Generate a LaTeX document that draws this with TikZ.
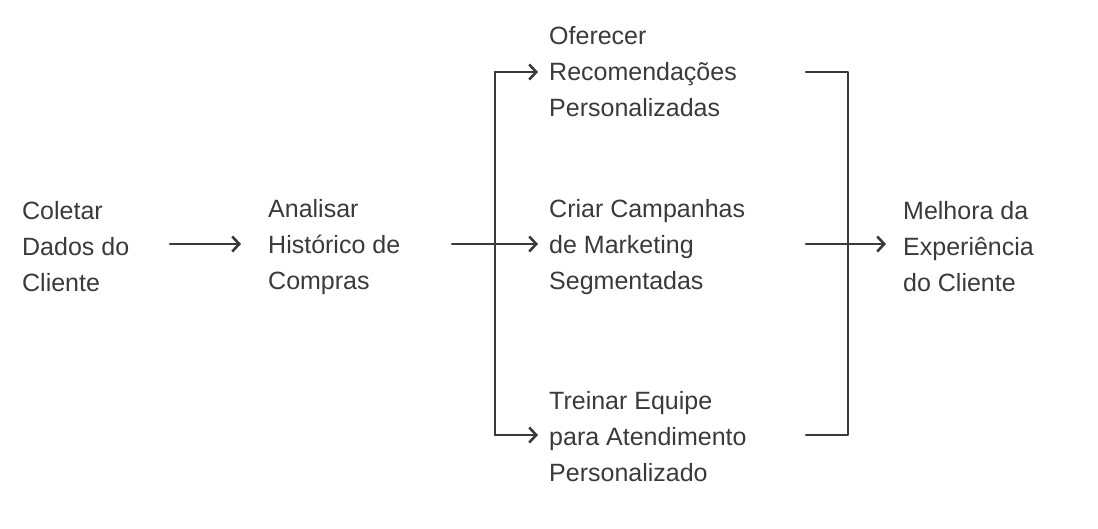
\documentclass[tikz,border=0pt]{standalone}
\usepackage{fontspec}
\setmainfont{Liberation Sans}
\usetikzlibrary{arrows.meta}
\definecolor{ink}{HTML}{3A3A3A}
\begin{document}
\begin{tikzpicture}[x=1pt,y=-1pt,
  lbl/.style={anchor=west,align=left,inner sep=0pt,text=ink,font=\fontsize{25}{36}\selectfont},
  con/.style={line width=2.6pt,draw=ink,line cap=round,line join=round},
  arr/.style={con,-{Straight Barb[length=7pt,width=15pt,line width=2.6pt]}}]
\useasboundingbox (0,0) rectangle (1098,528);
\node[lbl] (a) at (22,247) {Coletar\\Dados do\\Cliente};
\node[lbl] (b) at (268,247) {Analisar\\Histórico de\\Compras};
\node[lbl] (c1) at (549,72) {Oferecer\\Recomendações\\Personalizadas};
\node[lbl] (c2) at (549,247) {Criar Campanhas\\de Marketing\\Segmentadas};
\node[lbl] (c3) at (549,437) {Treinar Equipe\\para Atendimento\\Personalizado};
\node[lbl] (d) at (903,247) {Melhora da\\Experiência\\do Cliente};
\coordinate (s) at (495,244);
\coordinate (m) at (848,244);
\draw[arr] (170,244) -- (241,244);
\draw[arr] (452,244) -- (538,244);
\draw[con] (495,72) -- (495,435);
\draw[arr] (495,72) -- (538,72);
\draw[arr] (495,435) -- (538,435);
\draw[con] (806,72) -- (848,72) -- (848,435) -- (806,435);
\draw[con] (806,244) -- (848,244);
\draw[arr] (848,244) -- (886,244);
\end{tikzpicture}
\end{document}
